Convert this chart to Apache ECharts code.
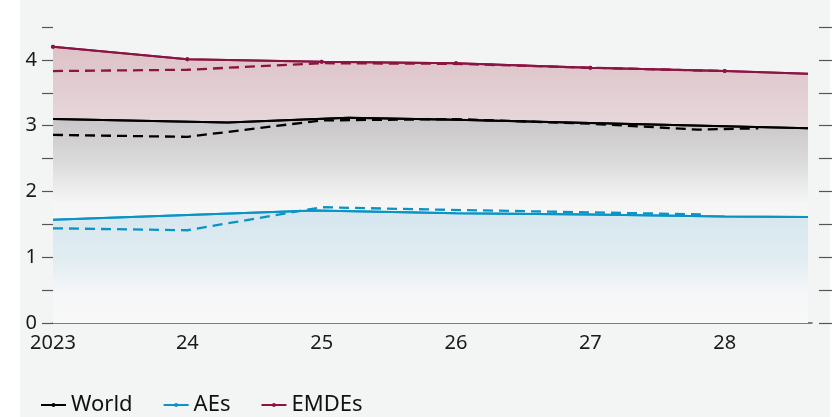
<!DOCTYPE html>
<html>
<head>
<meta charset="utf-8">
<script src="https://cdn.jsdelivr.net/npm/echarts@6/dist/echarts.min.js"></script>
<style>html,body{margin:0;padding:0;background:#fff;}#c{width:835px;height:417px;}</style>
</head>
<body>
<div id="c"></div>
<script>
// ---- data ----
const xTickLabels = ['2023', '24', '25', '26', '27', '28'];
const yTickLabels = ['0', '1', '2', '3', '4'];

const worldX = [2023, 2024.3, 2025.2, 2026, 2027, 2028, 2028.62];
const worldY = [3.10, 3.05, 3.12, 3.09, 3.04, 2.99, 2.96];
const worldPrevX = [2023, 2024, 2025, 2026, 2027, 2027.8, 2028.25];
const worldPrevY = [2.86, 2.83, 3.08, 3.10, 3.03, 2.94, 2.96];

const aesX = [2023, 2024.95, 2026, 2027, 2028, 2028.62];
const aesY = [1.57, 1.71, 1.67, 1.65, 1.62, 1.61];
const aesPrevX = [2023, 2024, 2025, 2025.7, 2027.86];
const aesPrevY = [1.44, 1.41, 1.76, 1.73, 1.65];

const emdeX = [2023, 2024, 2025, 2026, 2027, 2028, 2028.62];
const emdeY = [4.20, 4.01, 3.97, 3.95, 3.88, 3.83, 3.79];
const emdePrevX = [2023, 2024, 2025, 2026, 2027, 2028];
const emdePrevY = [3.83, 3.85, 3.95, 3.94, 3.88, 3.83];

const pairs = (xs, ys) => xs.map((x, i) => [x, ys[i]]);

const C_WORLD = '#000000', C_AES = '#0a94c6', C_EMDE = '#8c1443';
const FONT = 'Noto Sans';
const DASH = [10, 6];

const grad = (stops) => ({
  type: 'linear', x: 0, y: 0, x2: 0, y2: 1,
  colorStops: stops.map(s => ({ offset: s[0], color: s[1] }))
});

const chart = echarts.init(document.getElementById('c'), null, { renderer: 'canvas' });
chart.setOption({
  animation: false,
  backgroundColor: '#ffffff',
  textStyle: { fontFamily: FONT },
  graphic: [{
    type: 'rect', z: -10, silent: true,
    shape: { x: 20, y: 0, width: 810, height: 417 },
    style: { fill: '#f3f4f4' }
  }],
  grid: { left: 53, right: 23, top: 27, bottom: 94 },
  legend: {
    left: 35, top: 389, itemWidth: 25, itemHeight: 5, itemGap: 30,
    data: ['World', 'AEs', 'EMDEs'],
    textStyle: { fontFamily: FONT, fontSize: 22, color: '#111' }
  },
  xAxis: {
    type: 'value', min: 2023, max: 2028.65, interval: 1,
    axisLine: { show: true, lineStyle: { color: '#555', width: 1.5 } },
    axisTick: { show: false },
    splitLine: { show: false },
    axisLabel: {
      margin: 10, fontSize: 20, color: '#1a1a1a', fontFamily: FONT,
      showMaxLabel: false,
      formatter: v => {
        const i = Math.round(v - 2023);
        return (Math.abs(v - 2023 - i) < 1e-6 && xTickLabels[i] !== undefined) ? xTickLabels[i] : '';
      }
    }
  },
  yAxis: [{
    type: 'value', min: 0, max: 4.5, interval: 0.5,
    axisLine: { show: false },
    axisTick: { show: true, length: 11, lineStyle: { color: '#555', width: 1.2 } },
    splitLine: { show: false },
    axisLabel: {
      margin: 16, fontSize: 20, color: '#1a1a1a', fontFamily: FONT,
      formatter: v => (Math.abs(v - Math.round(v)) < 1e-6 ? yTickLabels[Math.round(v)] || '' : '')
    }
  }, {
    type: 'value', position: 'right', offset: 7, min: 0, max: 4.5, interval: 0.5,
    axisLine: { show: false },
    axisTick: { show: true, length: 13, lineStyle: { color: '#555', width: 1.2 } },
    axisLabel: { show: false },
    splitLine: { show: false }
  }],
  series: [
    {
      name: 'EMDEs', type: 'line', data: pairs(emdeX, emdeY).map((p, i, a) => i === a.length - 1 ? { value: p, symbol: 'none' } : p),
      symbol: 'circle', symbolSize: 4, showSymbol: true,
      itemStyle: { color: C_EMDE }, lineStyle: { color: C_EMDE, width: 2 },
      areaStyle: { opacity: 1, color: grad([[0, '#dcc2c7'], [0.3, '#e7d9dc'], [1, '#e7d9dc']]) },
      z: 2
    },
    {
      name: 'World', type: 'line', data: pairs(worldX, worldY),
      symbol: 'circle', symbolSize: 4, showSymbol: false,
      itemStyle: { color: C_WORLD }, lineStyle: { color: C_WORLD, width: 2 },
      areaStyle: { opacity: 1, color: grad([[0, '#c8c5c7'], [0.2, '#dad9da'], [0.42, '#f6f6f6'], [1, '#f7f7f7']]) },
      z: 3
    },
    {
      name: 'AEs', type: 'line', data: pairs(aesX, aesY),
      symbol: 'circle', symbolSize: 4, showSymbol: false,
      itemStyle: { color: C_AES }, lineStyle: { color: C_AES, width: 2 },
      areaStyle: { opacity: 1, color: grad([[0, '#d5e6ee'], [0.45, '#e2edf2'], [0.75, '#f6f7f8'], [1, '#f8f8f8']]) },
      z: 4
    },
    {
      name: 'World prev', type: 'line', data: pairs(worldPrevX, worldPrevY), showSymbol: false,
      lineStyle: { color: C_WORLD, width: 2.3, type: DASH }, z: 5
    },
    {
      name: 'AEs prev', type: 'line', data: pairs(aesPrevX, aesPrevY), showSymbol: false,
      lineStyle: { color: C_AES, width: 2.3, type: DASH }, z: 5
    },
    {
      name: 'EMDEs prev', type: 'line', data: pairs(emdePrevX, emdePrevY), showSymbol: false,
      lineStyle: { color: C_EMDE, width: 2.3, type: DASH }, z: 5
    },
    // solid lines redrawn above the dashed ones
    {
      name: 'EMDEs', type: 'line', data: pairs(emdeX, emdeY).map((p, i, a) => i === a.length - 1 ? { value: p, symbol: 'none' } : p),
      symbol: 'circle', symbolSize: 4, showSymbol: true,
      itemStyle: { color: C_EMDE }, lineStyle: { color: C_EMDE, width: 2 }, z: 6
    },
    {
      name: 'World', type: 'line', data: pairs(worldX, worldY), showSymbol: false,
      itemStyle: { color: C_WORLD }, lineStyle: { color: C_WORLD, width: 2 }, z: 6
    },
    {
      name: 'AEs', type: 'line', data: pairs(aesX, aesY), showSymbol: false,
      itemStyle: { color: C_AES }, lineStyle: { color: C_AES, width: 2 }, z: 6
    }
  ]
});
</script>
</body>
</html>
